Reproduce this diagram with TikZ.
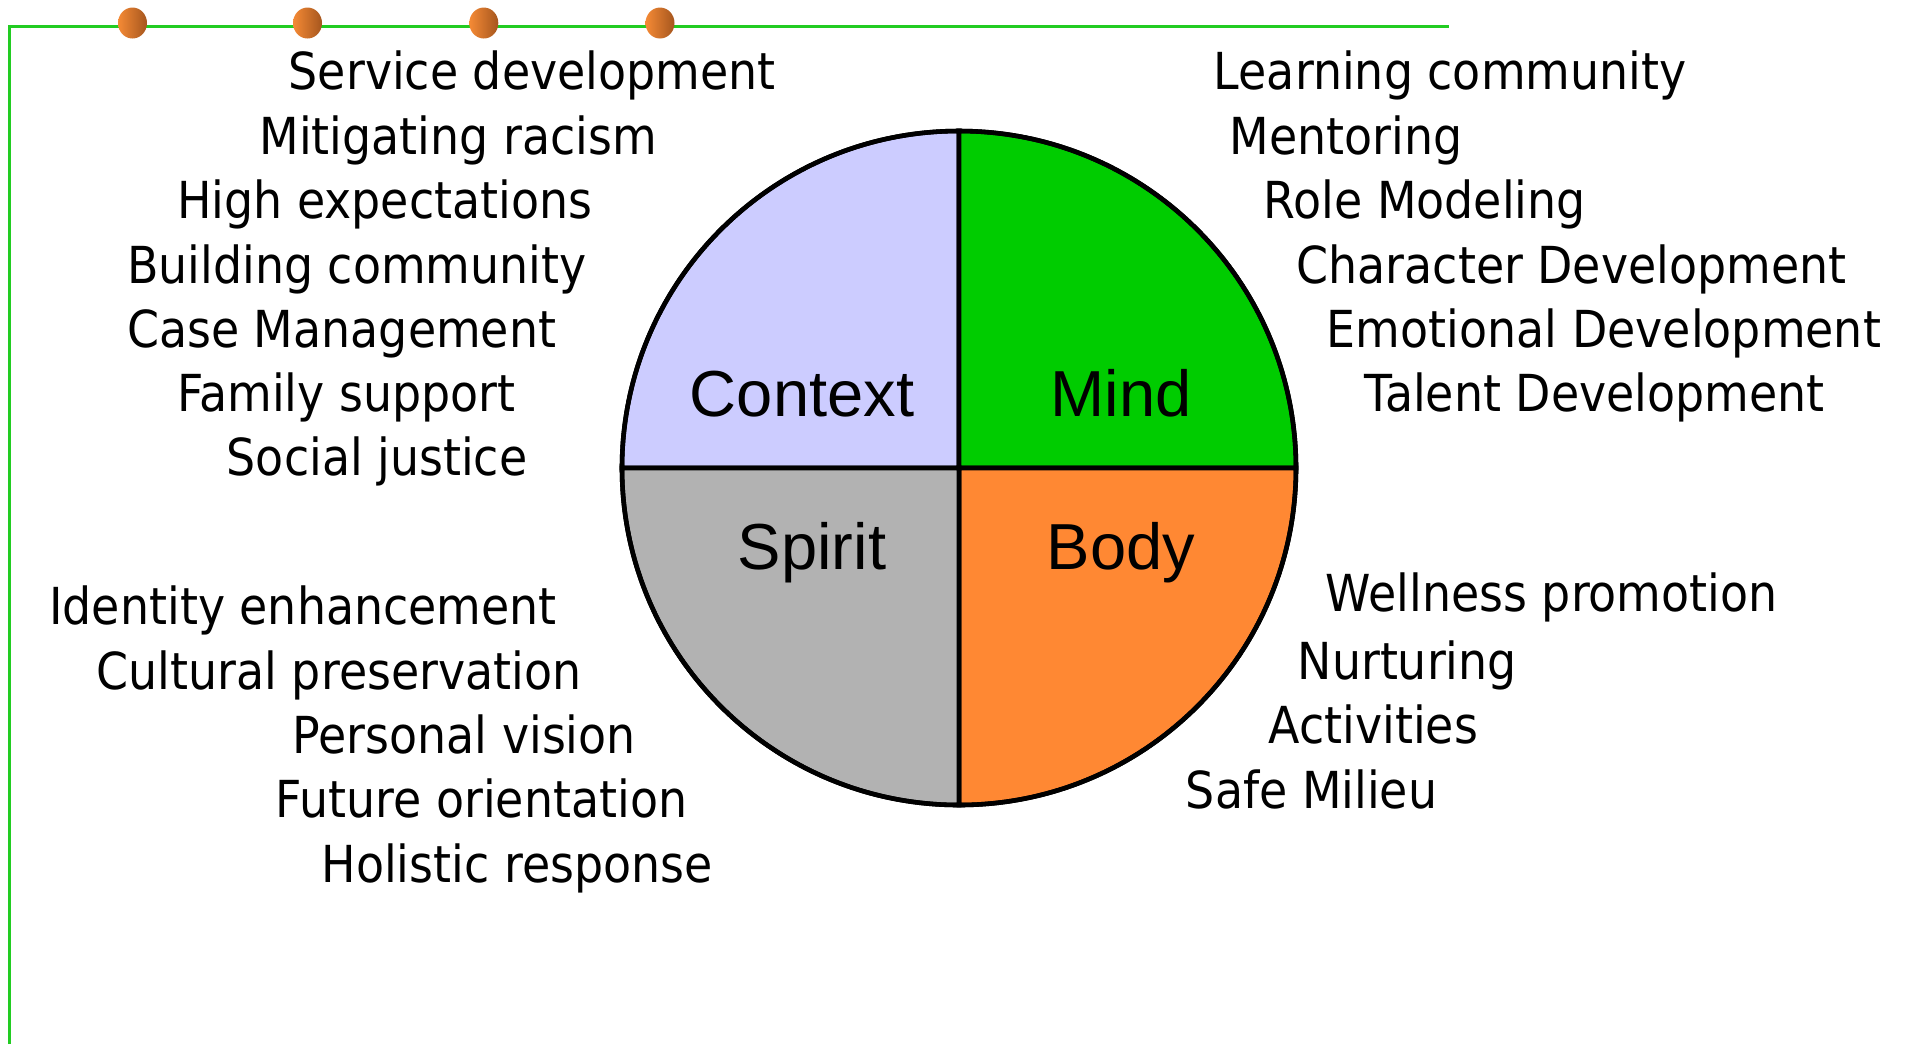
\documentclass[tikz,border=0pt]{standalone}
\usepackage{fontspec}
\setmainfont{DejaVu Sans}[FakeStretch=0.9]
\newfontfamily\quadfont{Liberation Sans}
\usepackage{tikz}

\definecolor{ctxcol}{HTML}{CCCCFF}
\definecolor{mindcol}{HTML}{00CC00}
\definecolor{spiritcol}{HTML}{B2B2B2}
\definecolor{bodycol}{HTML}{FF8833}
\definecolor{framecol}{HTML}{22CC22}
\definecolor{dotlight}{HTML}{F58A35}
\definecolor{dotdark}{HTML}{A5561E}

\tikzset{
  item/.style={anchor=west, inner sep=0pt, text height=11pt, text depth=0pt, font=\fontsize{14.5}{17}\selectfont},
  quad/.style={inner sep=0pt, text height=13.4pt, text depth=0pt, font=\quadfont\fontsize{18.5}{22}\selectfont},
  piece/.style={draw=black, line width=1.3pt},
  dot/.style={left color=dotlight, right color=dotdark},
}

\begin{document}
\begin{tikzpicture}[x=0.01cm, y=0.01cm]
\useasboundingbox (0,0) rectangle (1906,-1044);
% frame and dots
\draw[framecol, line width=0.9pt] (9.7,-1044) -- (9.7,-26.7) -- (1449,-26.7);
\foreach \x in {132.5,307.5,483.8,660} \shade[dot] (\x,-23) ellipse[x radius=14.5, y radius=15.5];

% the circle
\coordinate (c) at (959,-468);
\filldraw[piece, fill=ctxcol] (c) -- ++(180:337) arc[start angle=180, end angle=90, radius=337] -- cycle;
\filldraw[piece, fill=mindcol] (c) -- ++(90:337) arc[start angle=90, end angle=0, radius=337] -- cycle;
\filldraw[piece, fill=bodycol] (c) -- ++(0:337) arc[start angle=0, end angle=-90, radius=337] -- cycle;
\filldraw[piece, fill=spiritcol] (c) -- ++(-90:337) arc[start angle=-90, end angle=-180, radius=337] -- cycle;
\draw[piece] (c) circle[radius=337];

\node[quad] (context) at (802,-392.6) {Context};
\node[quad] (mind) at (1121,-392.6) {Mind};
\node[quad] (spirit) at (812,-545.8) {Spirit};
\node[quad] (body) at (1121,-545.8) {Body};

% lists
\foreach \x/\y/\t [count=\i] in {288.1/70.5/Service development, 258.9/134.9/Mitigating racism,
    176.3/199.4/High expectations, 126.4/263.8/Building community, 126.4/328.2/Case Management,
    176.3/392.6/Family support, 226.1/455.9/Social justice}
  \node[item] (ctx\i) at (\x,-\y) {\t};
\foreach \x/\y/\t [count=\i] in {48.6/605.4/Identity enhancement, 96/669.8/Cultural preservation,
    291.7/734.2/Personal vision, 274.7/798.6/Future orientation, 320.9/863.1/Holistic response}
  \node[item] (spr\i) at (\x,-\y) {\t};
\foreach \x/\y/\t [count=\i] in {1213.2/70.5/Learning community, 1229/134.9/Mentoring,
    1263/199.4/Role Modeling, 1295.8/263.8/Character Development,
    1326.2/328.2/Emotional Development, 1363.9/392.6/Talent Development}
  \node[item] (mnd\i) at (\x,-\y) {\t};
\foreach \x/\y/\t [count=\i] in {1325/592/Wellness promotion, 1297/660/Nurturing,
    1267.9/724.5/Activities, 1185.2/788.9/Safe Milieu}
  \node[item] (bdy\i) at (\x,-\y) {\t};
\end{tikzpicture}
\end{document}
